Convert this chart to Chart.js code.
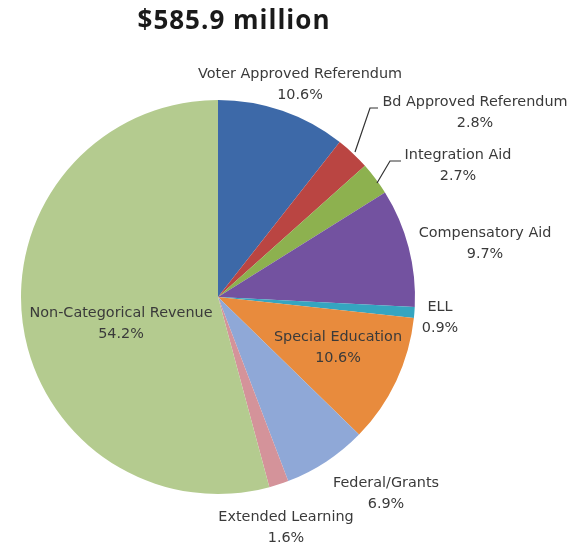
<!DOCTYPE html>
<html>
<head>
<meta charset="utf-8">
<script src="https://cdn.jsdelivr.net/npm/chart.js@4"></script>
<style>
html,body{margin:0;padding:0;background:#fff;}
#wrap{width:580px;height:544px;position:relative;}
</style>
</head>
<body>
<div id="wrap"><canvas id="c" width="580" height="544"></canvas></div>
<script>
const titleText = "$585.9 million";
const categories = ["Voter Approved Referendum","Bd Approved Referendum","Integration Aid","Compensatory Aid","ELL","Special Education","Federal/Grants","Extended Learning","Non-Categorical Revenue"];
const shares = [10.6, 2.8, 2.7, 9.7, 0.9, 10.6, 6.9, 1.6, 54.2];
const pctLabels = ["10.6%","2.8%","2.7%","9.7%","0.9%","10.6%","6.9%","1.6%","54.2%"];
const colors = ["#3D69A8","#BA4542","#8DB14F","#7352A0","#35A5C0","#E88B3D","#8FA8D7","#D4939A","#B4CB8F"];

// label placement relative to pie center (dx, dy of first line center), optional leader line
const labelPlacement = [
  {dx: 82, dy: -223},
  {dx: 257, dy: -195, leader: [[137,-145],[152,-189],[160,-189]]},
  {dx: 240, dy: -142, leader: [[159,-114],[172,-136],[183,-136]]},
  {dx: 267, dy: -64},
  {dx: 222, dy: 10},
  {dx: 120, dy: 40},
  {dx: 168, dy: 186},
  {dx: 68, dy: 220},
  {dx: -97, dy: 16}
];

const labelPlugin = {
  id: 'labels',
  afterDraw(chart) {
    const ctx = chart.ctx;
    const meta = chart.getDatasetMeta(0);
    const arc0 = meta.data[0];
    const cx = arc0.x, cy = arc0.y;
    ctx.save();
    // title
    ctx.fillStyle = '#1a1a1a';
    ctx.font = 'bold 26px "Open Sans"';
    ctx.letterSpacing = '1px';
    ctx.textAlign = 'center';
    ctx.textBaseline = 'middle';
    ctx.fillText(titleText, 234, 22);
    ctx.letterSpacing = '0px';
    ctx.font = '14.4px "DejaVu Sans"';
    ctx.fillStyle = '#3a3a3a';
    labelPlacement.forEach((p, i) => {
      const x = cx + p.dx, y = cy + p.dy;
      ctx.fillText(categories[i], x, y);
      ctx.fillText(pctLabels[i], x, y + 21);
      if (p.leader) {
        ctx.strokeStyle = '#333';
        ctx.lineWidth = 1.2;
        ctx.beginPath();
        p.leader.forEach((pt, k) => {
          if (k === 0) ctx.moveTo(cx + pt[0], cy + pt[1]);
          else ctx.lineTo(cx + pt[0], cy + pt[1]);
        });
        ctx.stroke();
      }
    });
    ctx.restore();
  }
};

new Chart(document.getElementById('c'), {
  type: 'pie',
  data: {
    labels: categories,
    datasets: [{ data: shares, backgroundColor: colors, borderWidth: 0 }]
  },
  options: {
    responsive: false,
    animation: false,
    layout: { padding: { left: 21, right: 165, top: 100, bottom: 50 } },
    plugins: { legend: { display: false }, tooltip: { enabled: false }, title: { display: false } }
  },
  plugins: [labelPlugin]
});
</script>
</body>
</html>
